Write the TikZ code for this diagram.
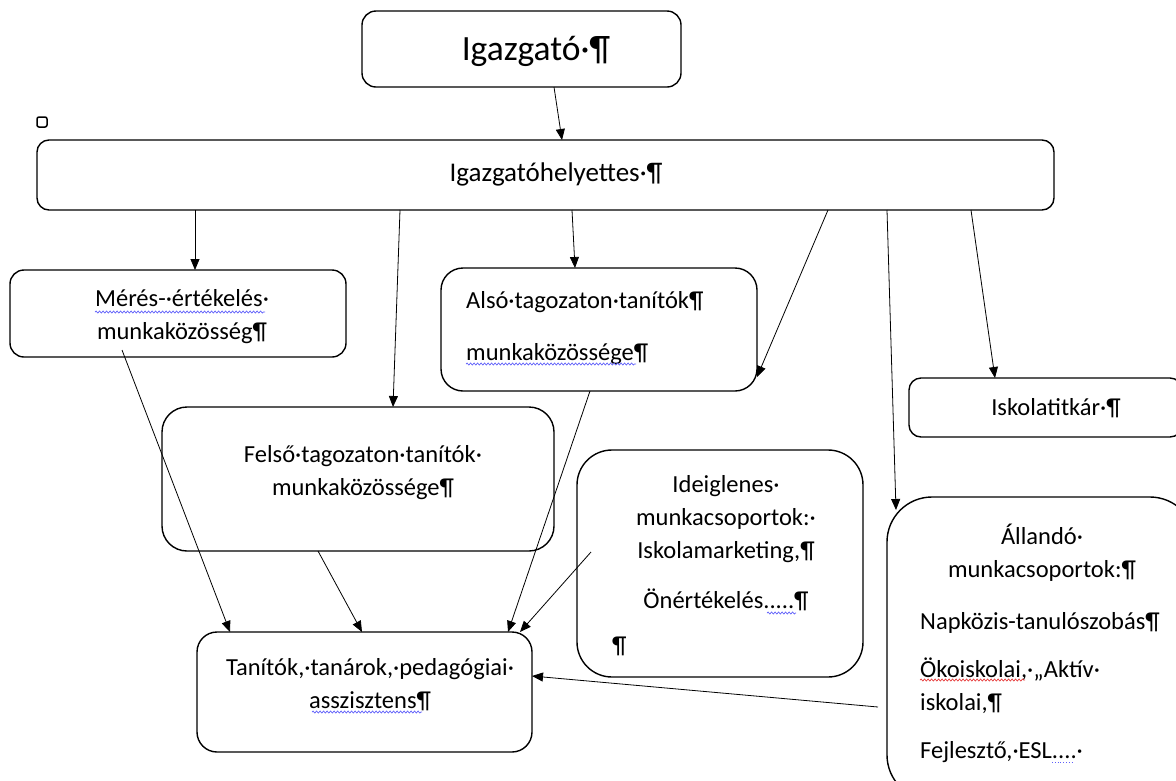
\documentclass[tikz,border=0pt]{standalone}
\usepackage{fontspec}
\setmainfont{Carlito}
\usetikzlibrary{arrows.meta,decorations.pathmorphing}

\definecolor{spellblue}{RGB}{95,95,250}
\definecolor{spellred}{RGB}{230,60,60}

\begin{document}
\begin{tikzpicture}[x=1pt,y=-1pt,
  box/.style={draw,line width=1.4pt,inner sep=0pt,outer sep=0pt},
  txt/.style={inner sep=0pt,font=\fontsize{24.5}{33}\selectfont},
  link/.style={line width=0.8pt,-{Triangle[length=11pt,width=9pt]}},
  squig/.style={line width=0.7pt,decorate,decoration={snake,amplitude=1pt,segment length=3.5pt}}]

\useasboundingbox (0,0) rectangle (1176,780);

% Boxes
\node[box,rounded corners=14pt,minimum width=319pt,minimum height=76pt] (igazgato) at (521.5,49) {};
\node[box,rounded corners=12pt,minimum width=1017pt,minimum height=70pt] (helyettes) at (545.5,175) {};
\node[box,rounded corners=14pt,minimum width=336pt,minimum height=87pt] (meres) at (178,313.5) {};
\node[box,rounded corners=22pt,minimum width=316pt,minimum height=123pt] (also) at (599,329.5) {};
\node[box,rounded corners=25pt,minimum width=392pt,minimum height=144pt] (felso) at (358,479) {};
\node[box,rounded corners=12pt,minimum width=273pt,minimum height=59pt] (iskola) at (1045.5,407.5) {};
\node[box,rounded corners=35pt,minimum width=286pt,minimum height=227pt] (ideig) at (720,563.5) {};
\node[box,rounded corners=45pt,minimum width=308pt,minimum height=303pt] (allando) at (1041,648.5) {};
\node[box,rounded corners=20pt,minimum width=335pt,minimum height=120pt] (tanitok) at (364.5,692) {};

% small marker
\node[box,line width=1.5pt,rounded corners=2pt,minimum width=10pt,minimum height=10pt] (jel) at (42,122) {};

% Texts (multi-line nodes sit on the baseline of their last line)
\node[txt,anchor=base,font=\fontsize{35.5}{40}\selectfont] (igazgatoT) at (536,60) {Igazgató·¶};
\node[txt,anchor=base,font=\fontsize{27}{33}\selectfont] (helyettesT) at (556,181) {Igazgatóhelyettes·¶};
\node[txt,anchor=base,align=center] (meresT) at (182,339) {Mérés-·értékelés·\\munkaközösség¶};
\node[txt,anchor=base west,align=left] (alsoT) at (466,360) {Alsó·tagozaton·tanítók¶\\[19pt]munkaközössége¶};
\node[txt,anchor=base,align=center] (felsoT) at (363,495) {Felső·tagozaton·tanítók·\\munkaközössége¶};
\node[txt,anchor=base] (iskolaT) at (1056,415) {Iskolatitkár·¶};
\node[txt,anchor=base,align=center] (ideigT) at (726,608) {Ideiglenes·\\munkacsoportok:·\\Iskolamarketing,¶\\[17pt]Önértékelés.....¶};
\node[txt,anchor=base west] (ideigP) at (612,653) {¶};
\node[txt,anchor=base,align=center] (allandoT) at (1042,577) {Állandó·\\munkacsoportok:¶};
\node[txt,anchor=base west,align=left] (allandoL) at (920,758) {Napközis-tanulószobás¶\\[15pt]Ökoiskolai,·„Aktív·\\iskolai,¶\\[15pt]Fejlesztő,·ESL....·};
\node[txt,anchor=base,align=center] (tanitokT) at (370,708) {Tanítók,·tanárok,·pedagógiai·\\asszisztens¶};

% Spelling marks
\draw[squig,spellblue] (95,312) -- (265,312);
\draw[squig,spellblue] (466,364) -- (636,364);
\draw[squig,spellblue] (312,712) -- (422,712);
\draw[squig,spellblue] (767,613) -- (796,613);
\draw[spellblue,line width=0.8pt,dotted] (1052,762) -- (1073,762);
\draw[squig,spellred] (920,680) -- (1025,680);

% Connectors
\draw[link] ([xshift=32.5pt]igazgato.south) -- ([xshift=16.5pt]helyettes.north);
\draw[link] ([xshift=-350.5pt]helyettes.south) -- ([xshift=17pt]meres.north);
\draw[link] ([xshift=-145.5pt]helyettes.south) -- ([xshift=35pt]felso.north);
\draw[link] ([xshift=26.5pt]helyettes.south) -- ([xshift=-24pt]also.north);
\draw[link] ([xshift=282.5pt]helyettes.south) -- ([yshift=-47.5pt]also.east);
\draw[link] ([xshift=341.5pt]helyettes.south) -- ([shift={(9pt,-13pt)}]allando.north west);
\draw[link] ([xshift=425.5pt]helyettes.south) -- ([xshift=-50.5pt]iskola.north);
\draw[link] ([shift={(-56pt,7pt)}]meres.south) -- ([xshift=-134.5pt]tanitok.north);
\draw[link] ([xshift=-40pt]felso.south) -- ([xshift=-2.5pt]tanitok.north);
\draw[link] ([xshift=-9pt]also.south) -- ([xshift=143.5pt]tanitok.north);
\draw[link] ([shift={(14pt,11.5pt)}]ideig.west) -- ([xshift=155.5pt]tanitok.north);
\draw[link] ([shift={(-9pt,-58.5pt)}]allando.west) -- ([yshift=16pt]tanitok.east);

\end{tikzpicture}
\end{document}
